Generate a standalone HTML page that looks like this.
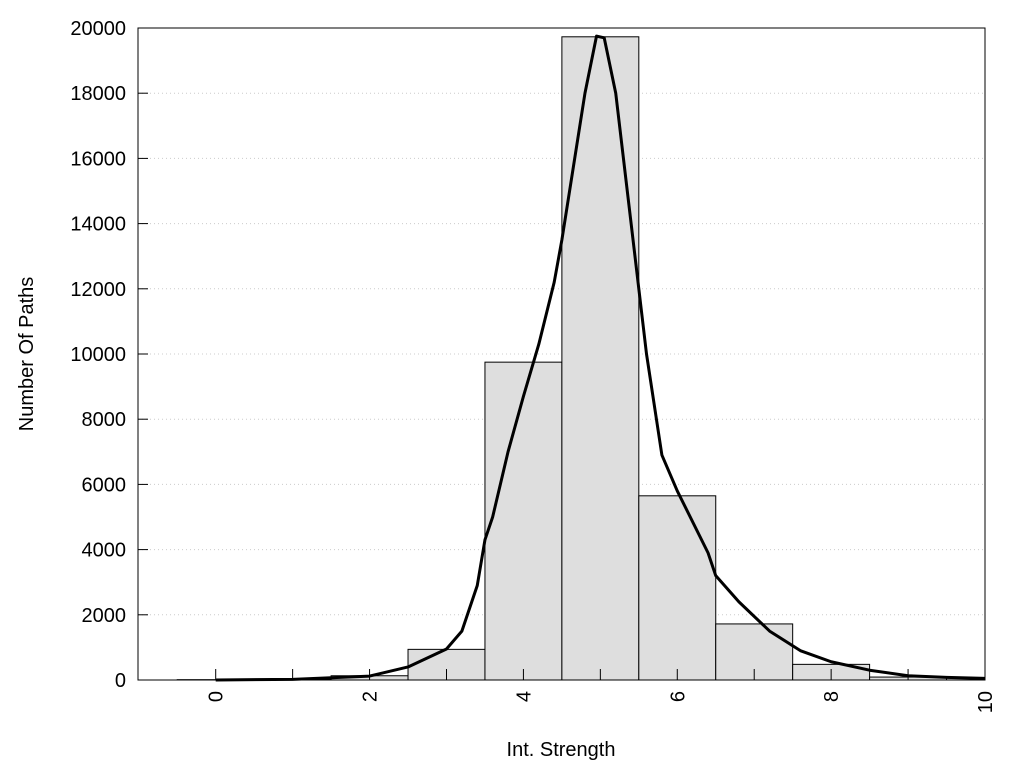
<!DOCTYPE html>
<html><head><meta charset="utf-8"><style>body{margin:0;background:#fff}svg text{font-family:"Liberation Sans",sans-serif;font-size:20px;fill:#000}</style></head>
<body>
<svg id="c" width="1024" height="768" xmlns="http://www.w3.org/2000/svg"></svg>
<script>
const binCenters=[0,1,2,3,4,5,6,7,8,9,10];
const binCounts=[10,30,130,940,9750,19730,5650,1720,480,90,60];
const curveX=[0,1,2,2.5,3,3.2,3.4,3.5,3.6,3.8,4,4.2,4.4,4.5,4.6,4.8,4.95,5.05,5.2,5.4,5.5,5.6,5.8,6,6.4,6.5,6.8,7.2,7.6,8,8.5,9,9.5,10];
const curveY=[0,20,120,400,950,1500,2900,4300,5000,7000,8700,10300,12200,13500,15000,18000,19750,19700,18000,14000,12000,10000,6900,5800,3900,3200,2400,1500,900,560,300,130,80,50];
const yTicks=[0,2000,4000,6000,8000,10000,12000,14000,16000,18000,20000];
const xTicks=[0,2,4,6,8,10];
const L=138,R=985,T=28,B=680,xmin=-1.01,xmax=10,ymax=20000;
const sx=v=>L+(v-xmin)/(xmax-xmin)*(R-L), sy=v=>B-v/ymax*(B-T);
const svg=document.getElementById('c'),NS='http://www.w3.org/2000/svg';
function mk(t,a,p){const e=document.createElementNS(NS,t);for(const k in a)e.setAttribute(k,a[k]);(p||svg).appendChild(e);return e;}
yTicks.forEach(v=>{
 if(v>0&&v<ymax){const g=mk('line',{x1:L,x2:R,y1:sy(v),y2:sy(v),stroke:'#ccc','stroke-dasharray':'1,3'});
 
 }
 const tk=mk('line',{x1:L,x2:L+10,y1:sy(v),y2:sy(v),stroke:'#000'});
 
 
 const t=mk('text',{x:126,y:sy(v)+7,'text-anchor':'end'});t.textContent=v;
 
 
});
binCenters.forEach((c,i)=>{
 const x0=Math.max(sx(c-0.5),L),x1=Math.min(sx(c+0.5),R);
 const r=mk('rect',{x:x0,y:sy(binCounts[i]),width:x1-x0,height:B-sy(binCounts[i]),fill:'#dedede',stroke:'#000','stroke-width':1});
 
 
});
for(let v=0;v<=10;v++){const tk=mk('line',{x1:sx(v),x2:sx(v),y1:B,y2:B-11,stroke:'#000'});
 
 }
xTicks.forEach(v=>{const t=mk('text',{x:0,y:0,'text-anchor':'end',transform:`translate(${sx(v)+7},${B+11}) rotate(-90)`});t.textContent=v;
 
 });
const p=mk('polyline',{points:curveX.map((x,i)=>sx(x)+','+sy(curveY[i])).join(' '),fill:'none',stroke:'#000','stroke-width':3,'stroke-linejoin':'round'});


const f=mk('rect',{x:L,y:T,width:R-L,height:B-T,fill:'none',stroke:'#000'});


const xt=mk('text',{x:561,y:756,'text-anchor':'middle'});xt.textContent='Int. Strength';


const yt=mk('text',{x:0,y:0,'text-anchor':'middle',transform:'translate(33,354) rotate(-90)'});yt.textContent='Number Of Paths';


</script>
</body></html>
